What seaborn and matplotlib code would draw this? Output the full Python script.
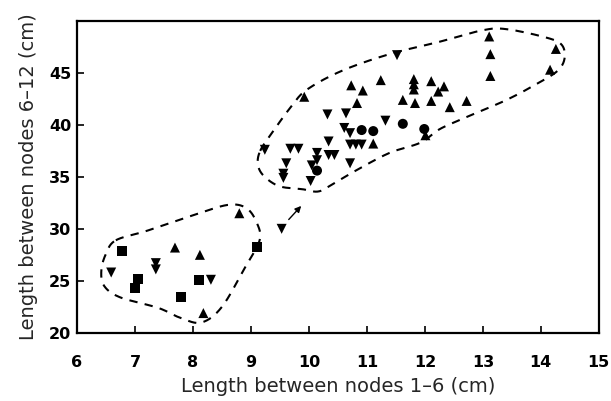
import numpy as np
import pandas as pd
import matplotlib
matplotlib.use("Agg")
import matplotlib.pyplot as plt
import seaborn as sns

# ---- data ----
up_x = [13.11, 13.13, 13.13, 14.26, 14.16, 9.92, 10.73, 10.93, 11.24, 10.83,
        11.81, 11.81, 11.81, 11.62, 11.83, 12.11, 12.23, 12.33, 12.11, 12.43,
        12.72, 11.11, 12.01,
        7.69, 8.12, 8.18, 8.80]
up_y = [48.5, 46.8, 44.7, 47.3, 45.3, 42.7, 43.8, 43.3, 44.3, 42.1,
        44.4, 43.9, 43.4, 42.4, 42.1, 44.2, 43.2, 43.7, 42.3, 41.7,
        42.3, 38.2, 39.0,
        28.2, 27.5, 21.9, 31.5]

down_x = [11.52, 10.32, 10.64, 11.32, 9.24, 9.68, 9.82, 9.61, 9.56, 9.56,
          10.14, 10.05, 10.14, 10.03, 10.34, 10.34, 10.44, 10.61, 10.71,
          10.71, 10.81, 10.91, 10.71, 9.53,
          6.59, 7.36, 7.36, 8.31]
down_y = [46.7, 41.0, 41.1, 40.4, 37.6, 37.7, 37.7, 36.3, 35.3, 34.9,
          37.3, 36.1, 36.6, 34.6, 38.4, 37.1, 37.1, 39.7, 39.2,
          38.1, 38.1, 38.1, 36.3, 30.0,
          25.8, 26.7, 26.1, 25.1]

square_x = [6.77, 7.06, 7.00, 7.79, 8.10, 9.10]
square_y = [27.9, 25.2, 24.3, 23.4, 25.1, 28.3]

circle_x = [10.91, 11.11, 11.62, 11.99, 10.14]
circle_y = [39.5, 39.4, 40.1, 39.6, 35.6]

x_ticks = [6, 7, 8, 9, 10, 11, 12, 13, 14, 15]
y_ticks = [20, 25, 30, 35, 40, 45]

# hand-drawn group outlines (annotation)
lower_loop = [(6.67, 28.9), (7.2, 29.8), (8.0, 31.3), (8.6, 32.3), (8.92, 32.0),
              (9.1, 30.6), (9.15, 28.9), (8.9, 26.3), (8.5, 22.5), (8.15, 21.0),
              (7.8, 21.4), (7.4, 22.4), (6.75, 23.4), (6.47, 24.5), (6.42, 26.0),
              (6.5, 27.6)]
upper_loop = [(9.16, 37.5), (9.36, 39.2), (9.70, 41.8), (9.97, 43.4), (10.57, 45.2),
              (11.39, 46.8), (12.26, 48.0), (13.0, 49.1), (13.41, 49.2), (14.09, 48.4),
              (14.36, 47.7), (14.41, 46.4), (14.29, 45.2), (13.95, 44.0), (13.41, 42.4),
              (12.74, 40.8), (12.26, 39.6), (11.93, 38.3), (11.39, 37.3), (10.84, 35.7),
              (10.44, 34.4), (10.17, 33.6), (9.90, 33.8), (9.49, 34.1), (9.22, 35.1),
              (9.12, 36.2)]

df = pd.concat([
    pd.DataFrame({"x": up_x, "y": up_y, "g": "up"}),
    pd.DataFrame({"x": down_x, "y": down_y, "g": "down"}),
    pd.DataFrame({"x": square_x, "y": square_y, "g": "square"}),
    pd.DataFrame({"x": circle_x, "y": circle_y, "g": "circle"}),
], ignore_index=True)


def closed_curve(pts, n=24):
    P = np.array(pts, dtype=float)
    N = len(P)
    out = []
    t = np.linspace(0, 1, n, endpoint=False)[:, None]
    for i in range(N):
        p0, p1, p2, p3 = P[(i - 1) % N], P[i], P[(i + 1) % N], P[(i + 2) % N]
        out.append(0.5 * ((2 * p1) + (-p0 + p2) * t
                          + (2 * p0 - 5 * p1 + 4 * p2 - p3) * t ** 2
                          + (-p0 + 3 * p1 - 3 * p2 + p3) * t ** 3))
    out.append(P[:1])
    return np.vstack(out)


sns.set_style("ticks")
plt.rcParams["font.family"] = ["DejaVu Sans"]

fig = plt.figure(figsize=(6.11, 4.01), dpi=100)
ax = fig.add_axes([0.126, 0.170, 0.854, 0.778])

sns.scatterplot(data=df, x="x", y="y", style="g",
                markers={"up": "^", "down": "v", "square": "s", "circle": "o"},
                style_order=["up", "down", "square", "circle"],
                color="black", edgecolor="black", linewidth=0, s=52,
                legend=False, ax=ax)

for loop in (lower_loop, upper_loop):
    c = closed_curve(loop)
    ax.plot(c[:, 0], c[:, 1], color="black", lw=1.5, ls=(0, (4, 3.5)))

ax.annotate("", xy=(9.9, 32.4), xytext=(9.62, 30.7),
            arrowprops=dict(arrowstyle="-|>", color="black", lw=1.0,
                            mutation_scale=9))

ax.set_xlim(6, 15)
ax.set_ylim(20, 50)
ax.set_xticks(x_ticks)
ax.set_yticks(y_ticks)
ax.tick_params(direction="in", length=5, width=1.2, labelsize=11.5,
               colors="black")
ax.tick_params(axis="x", pad=16)
ax.tick_params(axis="y", pad=4)
for lab in ax.get_xticklabels() + ax.get_yticklabels():
    lab.set_fontweight("bold")
for sp in ax.spines.values():
    sp.set_visible(True)
    sp.set_linewidth(1.6)
    sp.set_color("black")

ax.set_xlabel("Length between nodes 1\u20136 (cm)", fontsize=14, labelpad=5)
ax.set_ylabel("Length between nodes 6\u201312 (cm)", fontsize=14, labelpad=8)

fig.savefig("out.png", dpi=100, facecolor="white")
